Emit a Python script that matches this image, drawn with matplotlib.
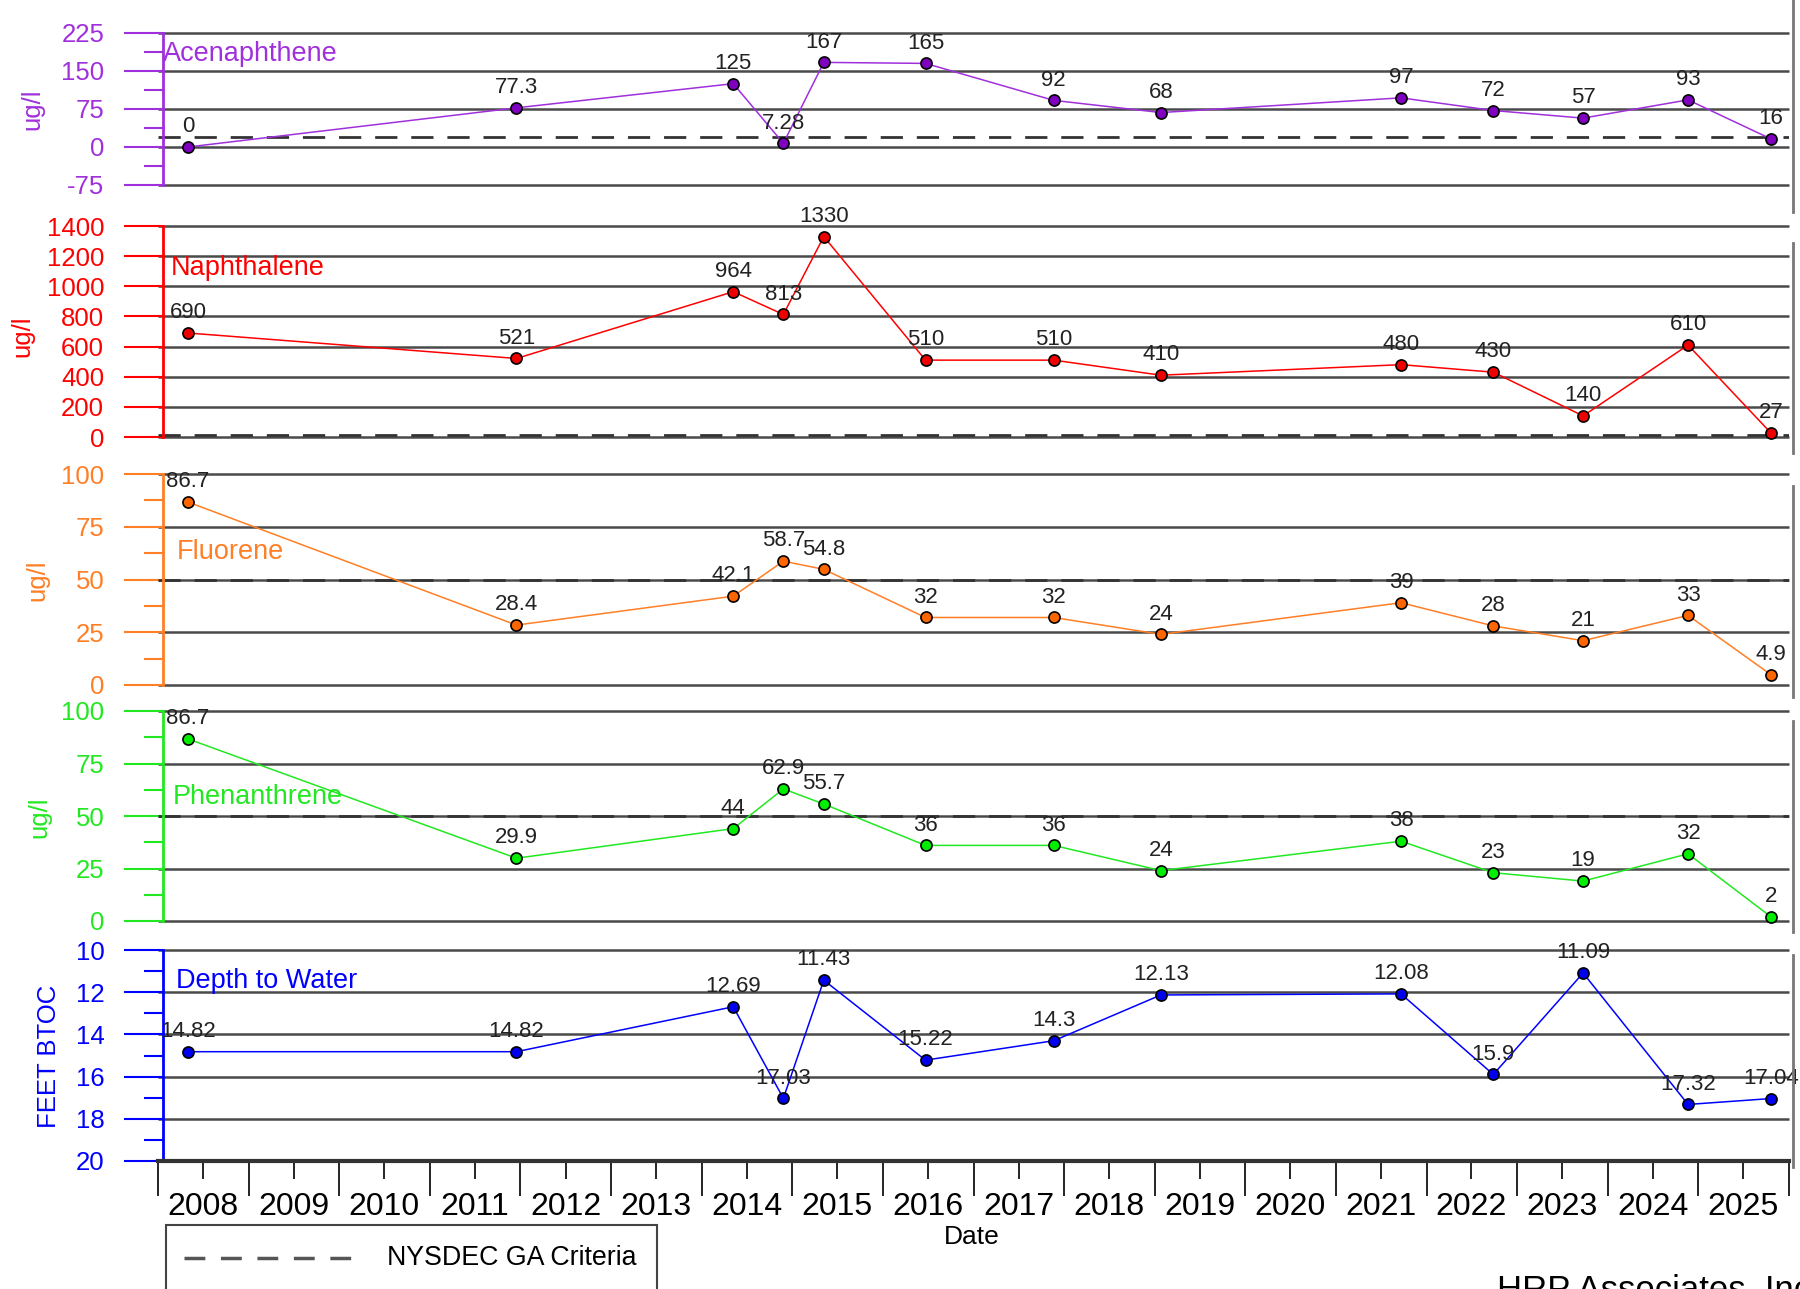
import numpy as np
import matplotlib.pyplot as plt
import matplotlib.dates as mdates
from matplotlib.lines import Line2D
from matplotlib.patches import Rectangle
from matplotlib.ticker import MultipleLocator, NullFormatter

plt.rcParams['font.family'] = ['Liberation Sans', 'DejaVu Sans']
plt.rcParams['axes.unicode_minus'] = False

# sampling dates and results
dates = ['2008-05-01', '2011-12-16', '2014-05-08', '2014-11-26', '2015-05-08',
         '2016-06-21', '2017-11-20', '2019-01-26', '2021-09-20', '2022-09-27',
         '2023-09-24', '2024-11-20', '2025-10-20']
acenaphthene = [0, 77.3, 125, 7.28, 167, 165, 92, 68, 97, 72, 57, 93, 16]
naphthalene = [690, 521, 964, 813, 1330, 510, 510, 410, 480, 430, 140, 610, 27]
fluorene = [86.7, 28.4, 42.1, 58.7, 54.8, 32, 32, 24, 39, 28, 21, 33, 4.9]
phenanthrene = [86.7, 29.9, 44, 62.9, 55.7, 36, 36, 24, 38, 23, 19, 32, 2]
depth_to_water = [14.82, 14.82, 12.69, 17.03, 11.43, 15.22, 14.3, 12.13, 12.08,
                  15.9, 11.09, 17.32, 17.04]
# NYSDEC GA criteria (ug/l)
criteria = {'Acenaphthene': 20, 'Naphthalene': 10, 'Fluorene': 50, 'Phenanthrene': 50}

W, H = 1800, 1289
fig = plt.figure(figsize=(W / 100, H / 100), dpi=100)


def fx(x):
    return x / W


def fy(y):
    return 1 - y / H


x = mdates.datestr2num(dates)
x0 = mdates.datestr2num('2008-01-01')
x1 = mdates.datestr2num('2026-01-01')
left, right = 158, 1789

# layout of the stacked panels (pixel positions in the picture)
panels = [
    dict(name='Acenaphthene', vals=acenaphthene, c='#A030DC', mc='#8000C0',
         lim=(-75, 225), major=75, minor=37.5, top=33, bot=185,
         title=(163, 54), ylab='ug/l', ylab_xy=(32, 109), rline=(0, 212)),
    dict(name='Naphthalene', vals=naphthalene, c='#FF0000', mc='#EE0000',
         lim=(0, 1400), major=200, minor=None, top=226, bot=437,
         title=(171, 268), ylab='ug/l', ylab_xy=(22, 336), rline=(243, 453)),
    dict(name='Fluorene', vals=fluorene, c='#FF7F27', mc='#FF6600',
         lim=(0, 100), major=25, minor=12.5, top=474, bot=685,
         title=(177, 552), ylab='ug/l', ylab_xy=(37, 580), rline=(486, 697)),
    dict(name='Phenanthrene', vals=phenanthrene, c='#22E822', mc='#00EE00',
         lim=(0, 100), major=25, minor=12.5, top=711, bot=921,
         title=(173, 797), ylab='ug/l', ylab_xy=(39, 817), rline=(721, 932)),
    dict(name='Depth to Water', vals=depth_to_water, c='#0000FF', mc='#0000EE',
         lim=(20, 10), major=2, minor=1, top=950, bot=1161,
         title=(176, 981), ylab='FEET BTOC', ylab_xy=(49, 1056), rline=(955, 1167)),
]

for i, p in enumerate(panels):
    ax = fig.add_axes([fx(left), fy(p['bot']), fx(right) - fx(left), (p['bot'] - p['top']) / H])
    ax.set_xlim(x0, x1)
    ax.set_ylim(*p['lim'])
    ax.yaxis.set_major_locator(MultipleLocator(p['major']))
    if p['minor']:
        ax.yaxis.set_minor_locator(MultipleLocator(p['minor']))

    # horizontal grid, drawn unclipped so the edge lines are full width
    lo, hi = min(p['lim']), max(p['lim'])
    ax.hlines(np.arange(lo, hi + p['major'] / 2, p['major']), x0, x1,
              color='#4a4a4a', lw=1.8, clip_on=False, zorder=1)

    for s in ['top', 'right', 'bottom']:
        ax.spines[s].set_visible(False)
    ax.spines['left'].set_color(p['c'])
    ax.spines['left'].set_linewidth(2)
    ax.spines['left'].set_position(('outward', -3.3))
    ax.tick_params(axis='y', which='major', length=28, width=1.5, color=p['c'],
                   labelcolor=p['c'], labelsize=18.5, pad=14)
    ax.tick_params(axis='y', which='minor', length=14, width=1.5, color=p['c'])

    if p['name'] in criteria:
        ax.axhline(criteria[p['name']], color='#333333', lw=2, ls=(0, (8, 5)), zorder=2)

    ax.plot(x, p['vals'], color=p['c'], lw=1.1, marker='o', ms=8,
            mfc=p['mc'], mec='black', mew=1.2, clip_on=False, zorder=3)
    for xi, v in zip(x, p['vals']):
        ax.annotate(f'{v:g}', (xi, v), xytext=(0, 7), textcoords='offset points',
                    ha='center', va='bottom', fontsize=16, color='#222222',
                    annotation_clip=False, zorder=4)

    fig.text(fx(p['title'][0]), fy(p['title'][1]), p['name'], color=p['c'],
             fontsize=19.5, ha='left', va='center')
    fig.text(fx(p['ylab_xy'][0]), fy(p['ylab_xy'][1]), p['ylab'], color=p['c'],
             fontsize=18.5, rotation=90, ha='center', va='center')
    fig.add_artist(Line2D([fx(1793), fx(1793)], [fy(p['rline'][0]), fy(p['rline'][1])],
                          color='#777777', lw=2))

    if i < len(panels) - 1:
        ax.tick_params(axis='x', which='both', bottom=False, labelbottom=False)
    else:
        ax.spines['bottom'].set_visible(True)
        ax.spines['bottom'].set_color('#333333')
        ax.spines['bottom'].set_linewidth(3)
        ax.xaxis.set_major_locator(mdates.YearLocator())
        ax.xaxis.set_minor_locator(mdates.YearLocator(month=7, day=1))
        ax.xaxis.set_major_formatter(NullFormatter())
        ax.xaxis.set_minor_formatter(mdates.DateFormatter('%Y'))
        ax.tick_params(axis='x', which='major', length=25, width=1.2, color='black')
        ax.tick_params(axis='x', which='minor', length=13, width=1.2, color='black',
                       labelsize=23, pad=9.5)

fig.text(fx(972), fy(1237), 'Date', ha='center', va='center', fontsize=19)

# legend box (runs off the bottom edge)
fig.add_artist(Rectangle((fx(166), fy(1300)), fx(657) - fx(166), (1300 - 1225) / H,
                         transform=fig.transFigure, fill=False, ec='#444444', lw=1.5))
fig.add_artist(Line2D([fx(184), fx(358)], [fy(1258), fy(1258)], color='#555555',
                      lw=2.5, ls=(0, (6, 4.5))))
fig.text(fx(387), fy(1258), 'NYSDEC GA Criteria', ha='left', va='center', fontsize=19.3)

# company name, cut off by the bottom edge as in the original
fig.text(fx(1497), fy(1300), 'HRP Associates, Inc.', ha='left', va='baseline', fontsize=25)

fig.savefig('out.png', dpi=100)
